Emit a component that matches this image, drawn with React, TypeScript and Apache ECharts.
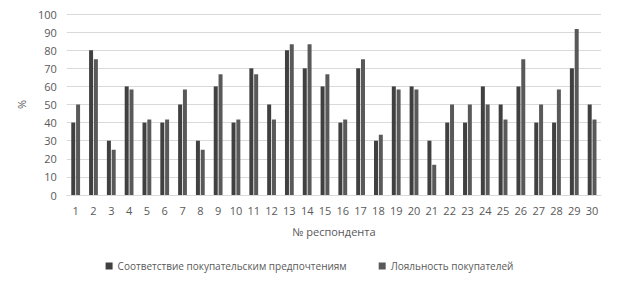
import React, { useEffect, useRef } from "react";
import * as echarts from "echarts";

const categories = Array.from({ length: 30 }, (_, i) => String(i + 1));
const matchValues = [40, 80, 30, 60, 40, 40, 50, 30, 60, 40, 70, 50, 80, 70, 60, 40, 70, 30, 60, 60, 30, 40, 40, 60, 50, 60, 40, 40, 70, 50];
const loyaltyValues = [50, 75, 25, 58.3, 41.7, 41.7, 58.3, 25, 66.7, 41.7, 66.7, 41.7, 83.3, 83.3, 66.7, 41.7, 75, 33.3, 58.3, 58.3, 16.7, 50, 50, 50, 41.7, 75, 50, 58.3, 91.7, 41.7];
const seriesNames = ["Соответствие покупательским предпочтениям", "Лояльность покупателей"];

export default function App() {
  const ref = useRef<HTMLDivElement>(null);
  useEffect(() => {
    if (!ref.current) return;
    const chart = echarts.init(ref.current, undefined, { renderer: "svg" });
    const font = "'Open Sans', sans-serif";
    chart.setOption({
      animation: false,
      textStyle: { fontFamily: font },
      grid: { left: 58, right: 10, top: 6, bottom: 83 },
      legend: {
        bottom: 2,
        left: "center",
        itemWidth: 7,
        itemHeight: 7,
        itemGap: 32,
        icon: "rect",
        textStyle: { fontSize: 10, color: "#595959", fontFamily: font },
        data: seriesNames,
      },
      xAxis: {
        type: "category",
        data: categories,
        name: "№ респондента",
        nameLocation: "middle",
        nameGap: 31,
        nameTextStyle: { fontSize: 11, color: "#595959" },
        axisLine: { lineStyle: { color: "#d9d9d9" } },
        axisTick: { show: false },
        axisLabel: { fontSize: 11, color: "#595959", margin: 10 },
      },
      yAxis: {
        type: "value",
        min: 0,
        max: 100,
        interval: 10,
        name: "%",
        nameLocation: "middle",
        nameGap: 31,
        nameTextStyle: { fontSize: 11, color: "#595959" },
        axisLine: { show: false },
        axisTick: { show: false },
        axisLabel: { fontSize: 11, color: "#595959", margin: 10 },
        splitLine: { lineStyle: { color: "#d9d9d9" } },
      },
      series: [
        {
          name: seriesNames[0],
          type: "bar",
          data: matchValues,
          barWidth: 4,
          barGap: "20%",
          itemStyle: { color: "#404040" },
        },
        {
          name: seriesNames[1],
          type: "bar",
          data: loyaltyValues,
          barWidth: 4,
          itemStyle: { color: "#595959" },
        },
      ],
    });
    return () => chart.dispose();
  }, []);
  return <div ref={ref} style={{ width: 603, height: 270 }} />;
}
